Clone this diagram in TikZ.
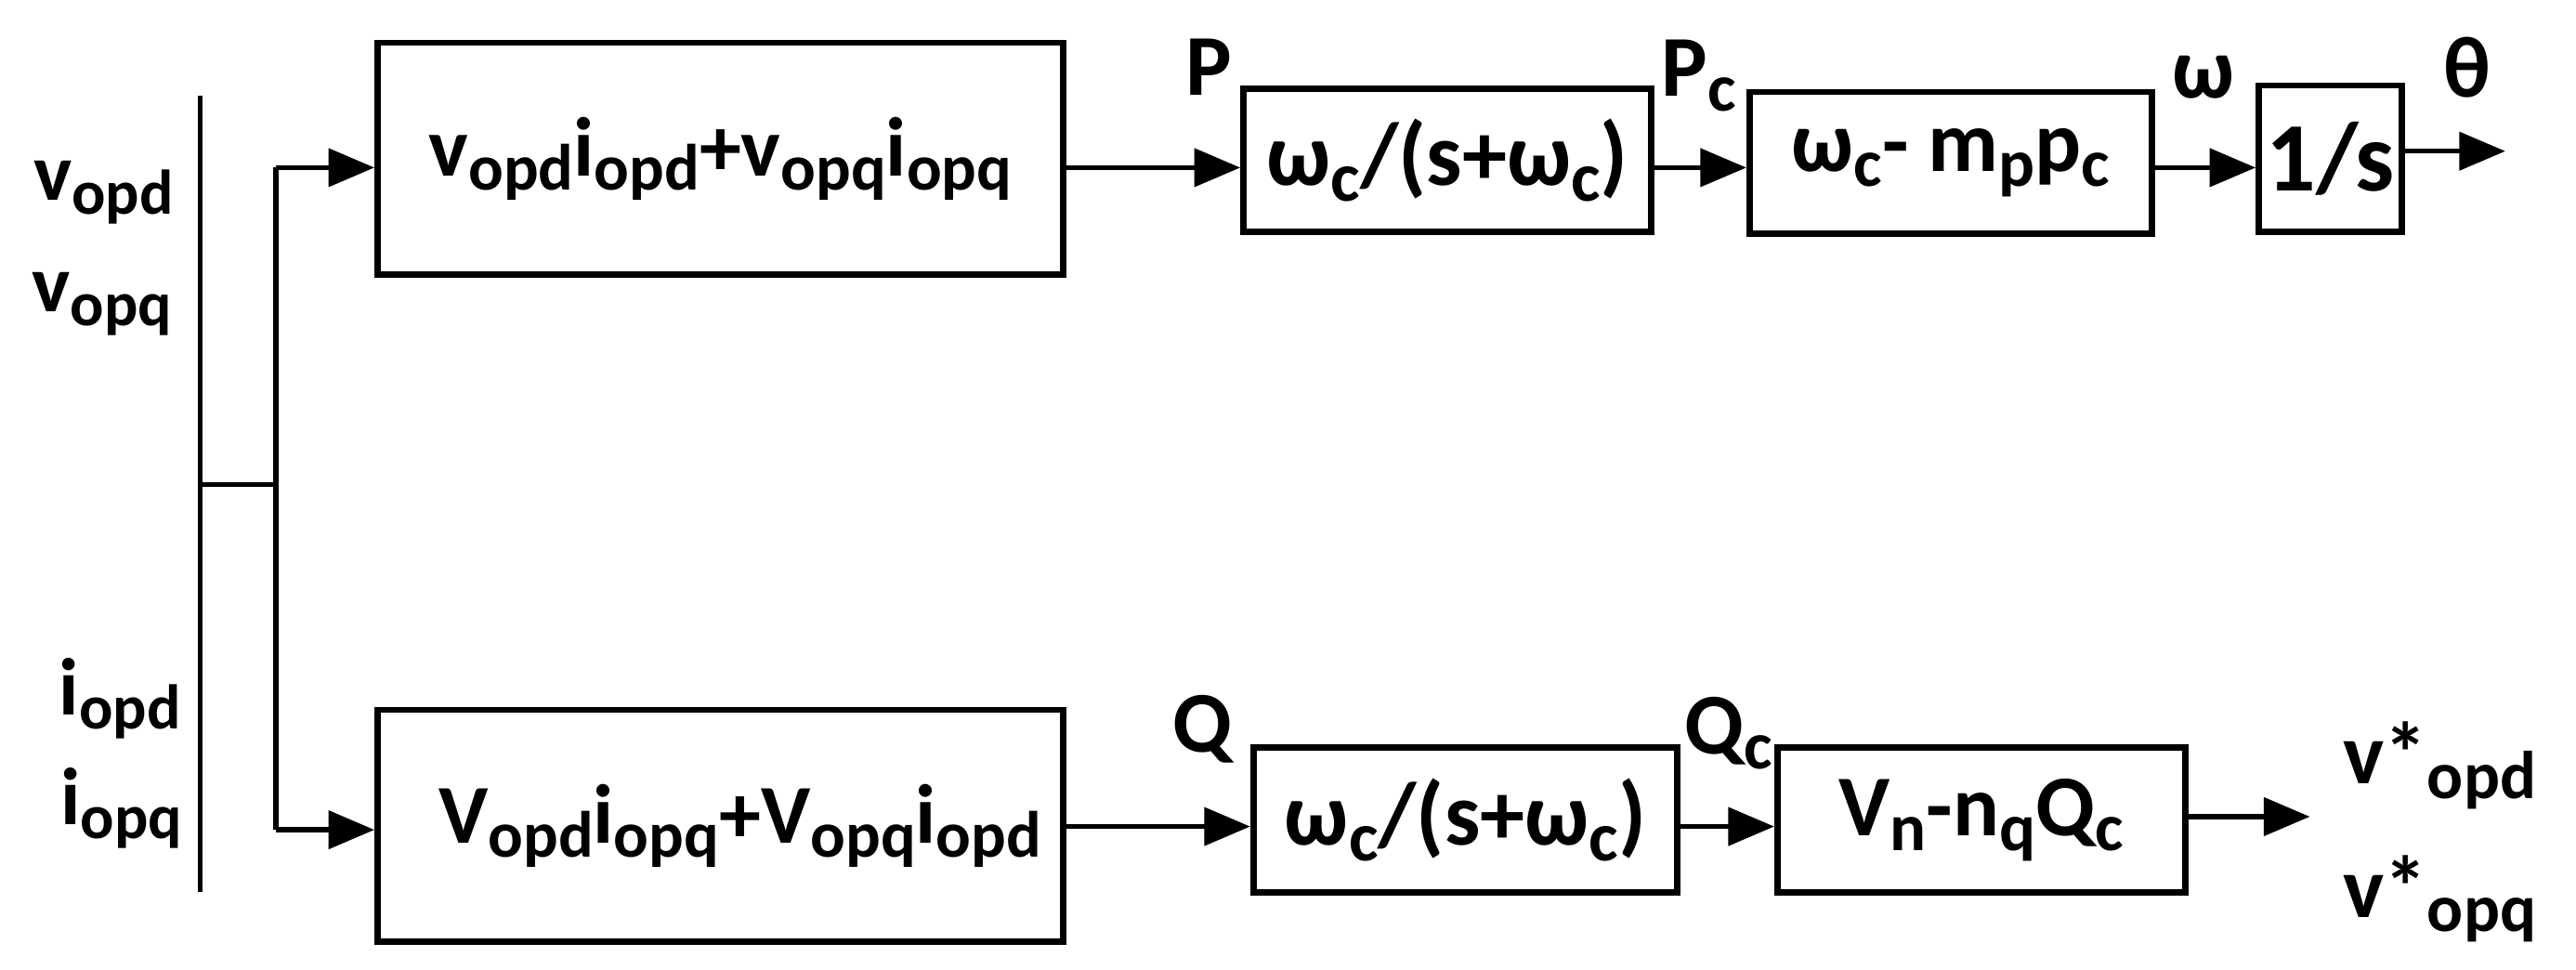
\documentclass[tikz,border=0pt]{standalone}
\usepackage{fontspec}
\setmainfont{Carlito}
\usepackage{graphicx}
\usetikzlibrary{arrows.meta}

\newcommand{\sub}[1]{\raisebox{-0.35ex}{\scalebox{0.78}{#1}}}

\begin{document}
\begin{tikzpicture}[x=0.01cm,y=-0.01cm,
  >={Triangle[length=0.28cm,width=0.23cm]},
  blk/.style={draw, line width=1.1pt, inner sep=0pt, font=\fontsize{15}{17}\selectfont\bfseries},
  lbl/.style={inner sep=0pt, font=\fontsize{15}{17}\selectfont\bfseries},
  wire/.style={line width=0.85pt}]
% Parameters
\def\rowP{102}
\def\rowQ{503}

\useasboundingbox (0,0) rectangle (1568,590);

% Power calculation
\node[blk, minimum width=4.17cm, minimum height=1.41cm, font=\fontsize{14.5}{17}\selectfont\bfseries] (pcalc) at (438.5,96.5) {v\sub{opd}i\sub{opd}+v\sub{opq}i\sub{opq}};
\node[blk, minimum width=4.17cm, minimum height=1.41cm, font=\fontsize{14.5}{17}\selectfont\bfseries] (qcalc) at (438.5,502.5) {\hspace*{0.24cm}V\sub{opd}i\sub{opq}+V\sub{opq}i\sub{opd}};

% P branch
\node[blk, minimum width=2.48cm, minimum height=0.87cm, font=\fontsize{15.5}{17}\selectfont\bfseries] (pfilt) at (881,97.5) {ω\sub{c}/(s+ω\sub{c})};
\node[blk, minimum width=2.45cm, minimum height=0.86cm] (pdroop) at (1187.5,99) {ω\sub{c}- m\sub{p}p\sub{c}};
\node[blk, minimum width=0.87cm, minimum height=0.89cm, font=\fontsize{17}{19}\selectfont\bfseries] (integ) at (1418.5,96.5) {1/s};

% Q branch
\node[blk, minimum width=2.58cm, minimum height=0.88cm, font=\fontsize{15.5}{17}\selectfont\bfseries] (qfilt) at (892,499) {ω\sub{c}/(s+ω\sub{c})};
\node[blk, minimum width=2.48cm, minimum height=0.88cm] (qdroop) at (1206,499) {V\sub{n}-n\sub{q}Q\sub{c}};

% Inputs
\node[lbl, font=\fontsize{14}{16}\selectfont\bfseries] (vd) at (63,117) {v\sub{opd}};
\node[lbl, font=\fontsize{14}{16}\selectfont\bfseries] (vq) at (62,185) {v\sub{opq}};
\node[lbl, font=\fontsize{14}{16}\selectfont\bfseries] (id) at (73,425) {i\sub{opd}};
\node[lbl, font=\fontsize{14}{16}\selectfont\bfseries] (iq) at (74,492) {i\sub{opq}};

\coordinate (busT) at (122,58);
\coordinate (busB) at (122,543);
\coordinate (busM) at (122,295);
\coordinate (fork) at (168,295);
\coordinate (forkT) at (168,\rowP);
\coordinate (forkB) at (168,505);
\draw[wire] (busT) -- (busB);
\draw[wire] (busM) -- (fork);
\draw[wire] (forkT) -- (forkB);
\draw[wire,->] (forkT) -- (pcalc.west |- forkT);
\draw[wire,->] (forkB) -- (qcalc.west |- forkB);

% Signal flow
\coordinate (lineP) at (0,\rowP);
\coordinate (lineQ) at (0,\rowQ);
\draw[wire,->] (pcalc.east |- lineP) -- (pfilt.west |- lineP);
\draw[wire,->] (pfilt.east |- lineP) -- (pdroop.west |- lineP);
\draw[wire,->] (pdroop.east |- lineP) -- (integ.west |- lineP);
\coordinate (theta) at (1525,92);
\draw[wire,->] (integ.east |- theta) -- (theta);

\draw[wire,->] (qcalc.east |- lineQ) -- (qfilt.west |- lineQ);
\draw[wire,->] (qfilt.east |- lineQ) -- (qdroop.west |- lineQ);
\coordinate (vout) at (1406,497);
\draw[wire,->] (qdroop.east |- vout) -- (vout);

% Signal names
\node[lbl] (P) at (736,41) {P};
\node[lbl] (Pc) at (1034,46) {P\sub{c}};
\node[lbl] (w) at (1341,47) {ω};
\node[lbl] (th) at (1502,41) {θ};
\node[lbl] (Q) at (732,444) {Q};
\node[lbl] (Qc) at (1052,446) {Q\sub{c}};
\node[lbl] (vdref) at (1485,466) {v*\sub{opd}};
\node[lbl] (vqref) at (1485,547) {v*\sub{opq}};

\end{tikzpicture}
\end{document}
